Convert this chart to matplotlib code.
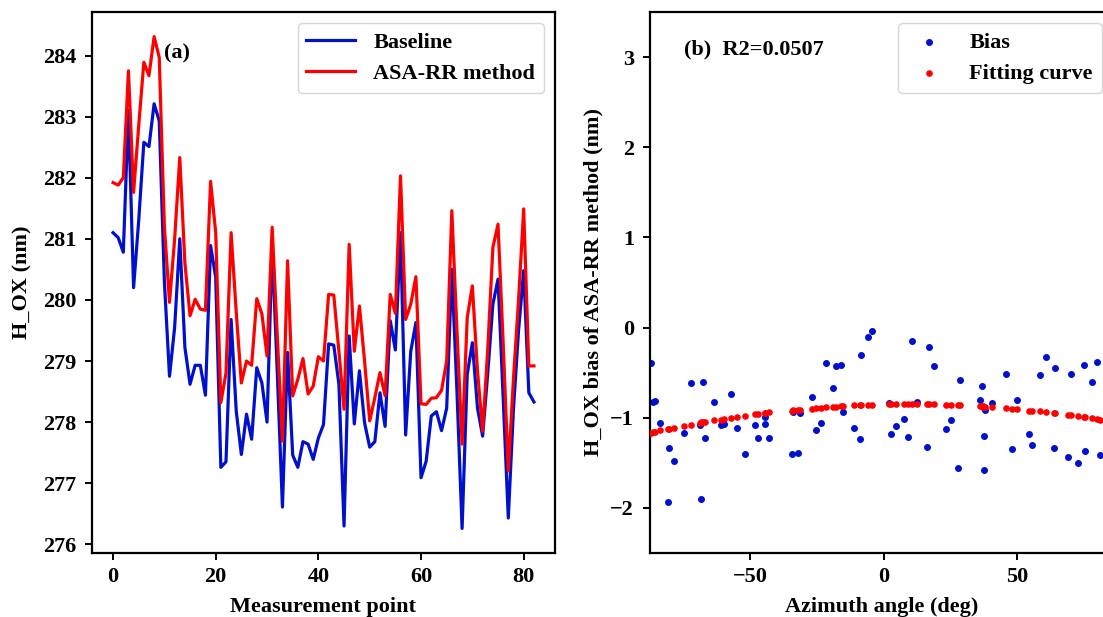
import matplotlib
matplotlib.use("Agg")
import matplotlib.pyplot as plt
import numpy as np

plt.rcParams['font.family'] = ['Liberation Serif', 'DejaVu Serif']
plt.rcParams['font.weight'] = 'bold'
plt.rcParams['axes.labelweight'] = 'bold'
plt.rcParams['axes.linewidth'] = 1.6
plt.rcParams['xtick.major.width'] = 1.4
plt.rcParams['ytick.major.width'] = 1.4
plt.rcParams['xtick.major.size'] = 5
plt.rcParams['ytick.major.size'] = 5

# ---------------- panel (a) data ----------------
measurement_point = list(range(83))
baseline = [281.10, 281.02, 280.78, 283.10, 280.20, 281.30, 282.58, 282.51, 283.21, 282.93,
            280.30, 278.75, 279.55, 281.00, 279.22, 278.62, 278.93, 278.93, 278.44, 280.89,
            280.37, 277.26, 277.35, 279.68, 278.18, 277.47, 278.13, 277.72, 278.89, 278.64,
            278.00, 280.90, 278.80, 276.61, 279.14, 277.46, 277.26, 277.68, 277.64, 277.39,
            277.74, 277.96, 279.28, 279.26, 278.62, 276.30, 279.41, 277.97, 278.84, 277.99,
            277.59, 277.68, 278.48, 277.93, 279.66, 279.18, 281.10, 277.79, 279.16, 279.63,
            277.09, 277.36, 278.10, 278.17, 277.86, 278.23, 280.50, 278.50, 276.26, 278.78,
            279.30, 278.23, 277.77, 278.80, 279.93, 280.34, 278.40, 276.43, 278.20, 279.50,
            280.48, 278.48, 278.33]
asa_rr = [281.92, 281.88, 282.00, 283.75, 281.76, 282.85, 283.89, 283.67, 284.31, 283.97,
          281.20, 279.96, 281.00, 282.33, 280.60, 279.74, 280.01, 279.85, 279.83, 281.94,
          281.10, 278.32, 278.80, 281.10, 279.80, 278.64, 279.00, 278.93, 280.02, 279.77,
          279.08, 281.19, 279.40, 277.69, 280.64, 278.43, 278.70, 279.04, 278.46, 278.59,
          279.07, 279.00, 280.09, 280.08, 279.16, 278.21, 280.91, 279.16, 279.90, 279.00,
          278.02, 278.40, 278.81, 278.43, 280.09, 279.78, 282.03, 279.68, 279.93, 280.38,
          278.30, 278.29, 278.39, 278.40, 278.52, 279.00, 281.46, 279.50, 277.64, 279.71,
          280.23, 278.84, 277.85, 279.20, 280.86, 281.24, 279.30, 277.20, 278.70, 280.00,
          281.49, 278.92, 278.92]

# ---------------- panel (b) data ----------------
azimuth = [-87.4, -86.6, -85.8, -84.0, -80.8, -80.3, -78.5, -75.0, -72.4, -68.7,
           -68.4, -67.9, -66.9, -63.7, -60.8, -59.9, -57.2, -54.8, -52.1, -48.3,
           -47.2, -44.5, -44.3, -43.1, -34.2, -34.0, -32.1, -31.3, -26.9, -25.5,
           -23.5, -21.5, -18.8, -18.0, -16.1, -15.2, -11.0, -8.7, -8.4, -5.7,
           -4.2, 2.0, 2.9, 4.7, 7.6, 9.2, 10.5, 12.5, 16.2, 17.0,
           18.7, 23.2, 25.1, 28.0, 28.7, 36.3, 37.0, 37.1, 37.6, 37.8,
           37.9, 40.8, 46.0, 48.2, 50.1, 54.6, 55.6, 58.6, 60.7, 63.7,
           64.3, 69.2, 70.2, 72.8, 75.2, 75.4, 78.0, 79.9, 81.3]
bias = [-0.39, -0.82, -0.81, -1.06, -1.93, -1.33, -1.48, -1.17, -0.61, -1.08,
        -1.90, -0.60, -1.23, -0.83, -1.08, -1.07, -0.74, -1.11, -1.40, -1.08,
        -1.22, -0.99, -1.07, -1.22, -1.40, -0.94, -1.39, -0.95, -0.77, -1.14,
        -1.06, -0.39, -0.67, -0.43, -0.42, -0.94, -1.11, -1.24, -0.30, -0.10,
        -0.04, -0.84, -1.18, -1.09, -1.01, -1.21, -0.15, -0.82, -1.32, -0.21,
        -0.43, -1.13, -1.02, -1.56, -0.58, -0.80, -0.65, -0.88, -1.58, -1.20,
        -0.91, -0.84, -0.52, -1.35, -0.80, -1.18, -1.30, -0.53, -0.33, -1.34,
        -0.45, -1.43, -0.51, -1.50, -0.42, -1.37, -0.60, -0.38, -1.41]
fitting = [-1.17, -1.16, -1.16, -1.14, -1.12, -1.12, -1.11, -1.09, -1.08, -1.06,
           -1.05, -1.05, -1.05, -1.03, -1.02, -1.01, -1.00, -0.99, -0.98, -0.96,
           -0.96, -0.95, -0.95, -0.94, -0.92, -0.91, -0.91, -0.91, -0.90, -0.89,
           -0.89, -0.88, -0.88, -0.88, -0.87, -0.87, -0.86, -0.86, -0.86, -0.86,
           -0.86, -0.85, -0.85, -0.85, -0.85, -0.85, -0.85, -0.85, -0.85, -0.85,
           -0.85, -0.86, -0.86, -0.86, -0.86, -0.87, -0.87, -0.87, -0.88, -0.88,
           -0.88, -0.88, -0.89, -0.90, -0.90, -0.92, -0.92, -0.93, -0.94, -0.95,
           -0.95, -0.97, -0.97, -0.98, -0.99, -0.99, -1.00, -1.01, -1.02]

FS = 16
fig = plt.figure(figsize=(11.03, 6.17), dpi=100)
W, H = 1103, 617
axL = fig.add_axes([92 / W, (H - 553) / H, 463 / W, 541 / H])
axR = fig.add_axes([650 / W, (H - 553) / H, 463 / W, 541 / H])

blue = '#0010CC'
red = '#FF0000'

axL.plot(measurement_point, baseline, color=blue, lw=2.3, label='Baseline')
axL.plot(measurement_point, asa_rr, color=red, lw=2.3, label='ASA-RR method')
axL.set_xticks([0, 20, 40, 60, 80])
axL.set_yticks([276, 277, 278, 279, 280, 281, 282, 283, 284])
axL.set_xlabel('Measurement point', fontsize=FS, fontweight='bold', labelpad=7)
axL.set_ylabel('H_OX (nm)', fontsize=FS, fontweight='bold', labelpad=7)
axL.tick_params(axis='both', labelsize=FS)
axL.tick_params(axis='y', pad=6.5)
axL.tick_params(axis='x', pad=5)
axL.text(10.0, 284.04, '(a)', fontsize=FS, fontweight='bold', va='center', ha='left')
axL.legend(loc='upper right', fontsize=FS, handlelength=2.2)

axR.scatter(azimuth, bias, s=16, color=blue, label='Bias', zorder=2)
axR.scatter(azimuth, fitting, s=14, color=red, label='Fitting curve', zorder=3)
axR.set_xlim(-87.6, 86.0)
axR.set_ylim(-2.5, 3.5)
axR.set_xticks([-50, 0, 50])
axR.set_yticks([-2, -1, 0, 1, 2, 3])
axR.set_xlabel('Azimuth angle (deg)', fontsize=FS, fontweight='bold', labelpad=7)
axR.set_ylabel('H_OX bias of ASA-RR method (nm)', fontsize=FS, fontweight='bold', labelpad=5)
axR.tick_params(axis='both', labelsize=FS)
axR.tick_params(axis='y', pad=6.5)
axR.tick_params(axis='x', pad=5)
axR.text(-75.0, 3.08, '(b)  R2=0.0507', fontsize=FS, fontweight='bold', va='center', ha='left')
axR.legend(loc='upper right', fontsize=FS, scatterpoints=1, markerscale=1.0)

fig.savefig('out.png', dpi=100)
